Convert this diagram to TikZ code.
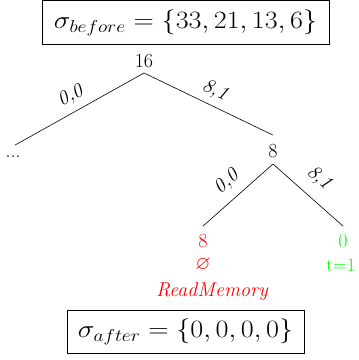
\documentclass[tikz,border=0pt]{standalone}
\usepackage{amssymb}
\usepackage{graphicx}
\begin{document}
\begin{tikzpicture}[x=1pt,y=-1pt,
  tree/.style={font=\fontsize{20}{24}\selectfont, inner sep=0pt, outer sep=0pt,
    text height=12.9pt, text depth=0pt},
  small/.style={font=\fontsize{19}{22}\selectfont, inner sep=0pt},
  edge/.style={font=\fontsize{20}{24}\selectfont\itshape, inner sep=0pt},
  state/.style={draw, line width=0.8pt, font=\fontsize{27}{32}\selectfont,
    inner xsep=0pt, inner ysep=0pt, minimum height=43.5pt},
  branch/.style={line width=0.6pt},
  miss/.style={text=red},
  hit/.style={text=green}]
\useasboundingbox (0,0) rectangle (359,360);

% initial state
\node[state, minimum width=287pt] (before) at (185.5,22.5)
  {\scalebox{1.13}[1]{$\sigma_{before}=\{33,21,13,6\}$}};

% root and first level
\node[tree, anchor=base] (n16) at (144,67) {16};
\node[tree, anchor=base] (dots) at (13,157) {...};
\node[tree, anchor=base] (n8) at (273,157) {8};
\draw[branch] ([yshift=-6pt]n16.south) -- ([xshift=2pt,yshift=-1pt]dots.north)
  node[edge, pos=0.51, above, sloped, yshift=6.5pt] {0,0};
\draw[branch] ([yshift=-6pt]n16.south) -- ([yshift=9pt]n8.north)
  node[edge, pos=0.50, above, sloped, yshift=6pt] {8,1};

% second level
\node[tree, miss, anchor=base] (n8r) at (203,247) {8};
\node[tree, hit, anchor=base] (n0) at (343,247) {0};
\draw[branch] ([yshift=-7pt]n8.south) -- ([yshift=8pt]n8r.north)
  node[edge, pos=0.5, above, sloped, yshift=8pt] {0,0};
\draw[branch] ([yshift=-7pt]n8.south) -- ([yshift=8pt]n0.north)
  node[edge, pos=0.47, above, sloped, yshift=11pt] {8,1};

% leaf annotations
\node[miss, inner sep=0pt, font=\fontsize{19}{22}\selectfont] (empty) at (203,265) {$\varnothing$};
\node[tree, miss, font=\fontsize{20}{24}\selectfont\itshape, anchor=base] (rm) at (212,296) {ReadMemory};
\node[small, hit] (t1) at (341,265) {t=1};

% final state
\node[state, minimum width=237pt] (after) at (185.5,332)
  {\scalebox{1.13}[1]{$\sigma_{after}=\{0,0,0,0\}$}};
\end{tikzpicture}
\end{document}
